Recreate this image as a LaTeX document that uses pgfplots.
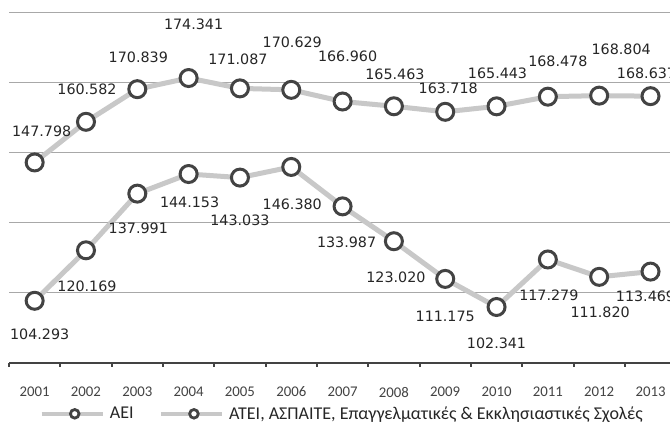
\documentclass[border=0pt]{standalone}
\usepackage{fontspec}
\setmainfont{Carlito}
\newfontfamily\lab{DejaVu Sans}
\usepackage{pgfplots}
\usepackage{pgfplotstable}
\pgfplotsset{compat=1.18}

\definecolor{linegray}{HTML}{C8C8C8}
\definecolor{markgray}{HTML}{434343}
\definecolor{gridgray}{HTML}{A8A8A8}
\definecolor{txt}{HTML}{262626}

% year index, value, label text, label offset (bp)
\pgfplotstableread{
x y lab dx dy
1 147.798 147.798 7 31
2 160.582 160.582 1 32
3 170.839 170.839 1 32
4 174.341 174.341 5 54
5 171.087 171.087 -2 29
6 170.629 170.629 1 48
7 166.960 166.960 5 45
8 165.463 165.463 1 32
9 163.718 163.718 3 24
10 165.443 165.443 1 33
11 168.478 168.478 10 35
12 168.804 168.804 22 46
13 168.637 168.637 -4 23
}\aei

\pgfplotstableread{
x y lab dx dy
1 104.293 104.293 5 -34
2 120.169 120.169 1 -36
3 137.991 137.991 1 -35
4 144.153 144.153 1 -28
5 143.033 143.033 0 -43
6 146.380 146.380 1 -37
7 133.987 133.987 4 -36
8 123.020 123.020 2 -36
9 111.175 111.175 0 -37
10 102.341 102.341 0 -36
11 117.279 117.279 1 -36
12 111.820 111.820 1 -35
13 113.469 113.469 -5 -25
}\atei

\pgfplotsset{
  serie/.style={
    draw=linegray, line width=5bp,
    mark=*, mark size=8.5bp,
    mark options={draw=markgray, fill=white, line width=3bp},
    nodes near coords, point meta=explicit symbolic,
    visualization depends on={\thisrow{dx}\as\dx},
    visualization depends on={\thisrow{dy}\as\dy},
    every node near coord/.append style={
      font=\lab\fontsize{14.3bp}{16bp}\selectfont, text=txt,
      anchor=center, inner sep=0pt, xshift=\dx bp, yshift=\dy bp},
  },
}

\begin{document}
\begin{tikzpicture}
\fill[white] (0,0) rectangle (670bp,423bp);
\useasboundingbox (0,0) rectangle (670bp,423bp);
\begin{axis}[
  at={(9bp,60bp)}, anchor=south west,
  width=661bp, height=363bp, scale only axis,
  xmin=0.5, xmax=13.38, ymin=84.73, ymax=198.88,
  clip=false,
  axis x line*=bottom, axis y line*=left,
  y axis line style={draw=none},
  x axis line style={draw=markgray, line width=2.5bp, -},
  xtick={1,...,13},
  xticklabels={2001,2002,2003,2004,2005,2006,2007,2008,2009,2010,2011,2012,2013},
  major tick length=0bp,
  major x tick style={draw=none},
  minor xtick={0.5,1.5,...,12.5},
  minor x tick style={draw=markgray, line width=2bp},
  minor tick length=4bp,
  tick align=outside,
  ytick={106.84,128.89,150.94,172.98,195.02},
  yticklabels={},
  major y tick style={draw=none},
  ymajorgrids,
  major grid style={draw=gridgray, line width=1.5bp},
  xticklabel style={font=\fontsize{14.8bp}{16bp}\selectfont, text=markgray,
    anchor=center, yshift=-29bp},
  legend image code/.code={
    \draw[draw=linegray, line width=4.5bp] (0bp,0bp) -- (61bp,0bp);
    \draw[draw=markgray, fill=white, line width=2.8bp] (33bp,0bp) circle (4.3bp);
  },
  legend style={draw=none, fill=none, at={(0.504,-0.14)}, anchor=center,
    inner sep=0pt,
    legend columns=2, font=\fontsize{18bp}{19bp}\selectfont, text=txt,
    /tikz/every odd column/.append style={column sep=3bp},
    /tikz/every even column/.append style={column sep=23bp}},
]
\addplot[serie] table[x=x, y=y, meta=lab] {\aei};
\addlegendentry{ΑΕΙ}
\addplot[serie] table[x=x, y=y, meta=lab] {\atei};
\addlegendentry{ΑΤΕΙ, ΑΣΠΑΙΤΕ, Επαγγελματικές \& Εκκλησιαστικές Σχολές}
\end{axis}
\end{tikzpicture}
\end{document}
